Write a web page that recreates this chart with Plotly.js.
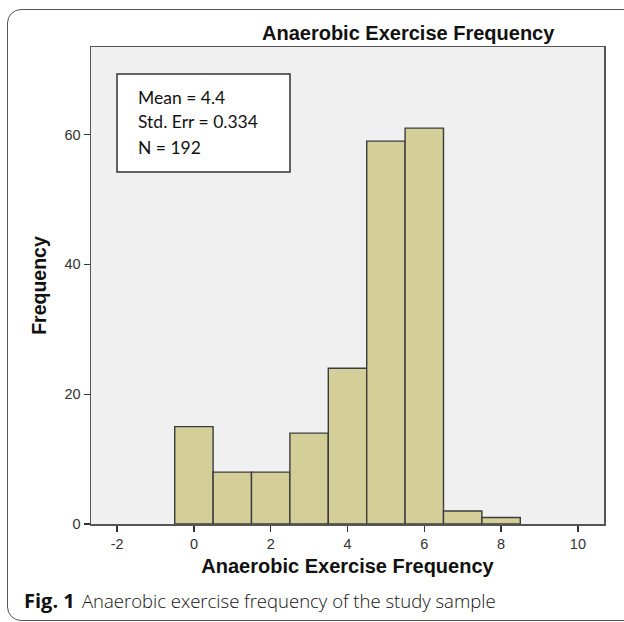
<!DOCTYPE html>
<html>
<head>
<meta charset="utf-8">
<script src="https://cdn.plot.ly/plotly-3.0.1.min.js"></script>
<style>
  html, body { margin: 0; padding: 0; background: #fff; width: 624px; height: 622px; overflow: hidden; }
  #frame { position: absolute; left: 7px; top: 9px; width: 660px; height: 610px; border: 1.5px solid #555; border-radius: 14px; }
  #chart { position: absolute; left: 0; top: 0; width: 624px; height: 622px; }
</style>
</head>
<body>
<div id="frame"></div>
<div id="chart"></div>
<script>
// Data
const binCenters = [0, 1, 2, 3, 4, 5, 6, 7, 8];
const frequencies = [15, 8, 8, 14, 24, 59, 61, 2, 1];
const xTicks = [-2, 0, 2, 4, 6, 8, 10];
const yTicks = [0, 20, 40, 60];
const chartTitle = "Anaerobic Exercise Frequency";
const xTitle = "Anaerobic Exercise Frequency";
const yTitle = "Frequency";
const statLines = ["Mean = 4.4", "Std. Err = 0.334", "N = 192"];
const captionLabel = "Fig. 1";
const captionText = "Anaerobic exercise frequency of the study sample";

const L = 91, T = 47, W = 513, H = 477; // plot area in px (for paper conversions)
const px = x => (x - L) / W;
const py = y => (T + H - y) / H;

const trace = {
  type: "bar",
  x: binCenters,
  y: frequencies,
  width: 1,
  marker: { color: "#d4cf98", line: { color: "#3c3c3c", width: 1.4 } },
  hoverinfo: "skip"
};

const boldFont = "Liberation Sans, Arial, sans-serif";
const statAnnots = statLines.map((s, i) => ({
  text: s, xref: "paper", yref: "paper",
  x: px(136), y: py(97 + 25 * i), xanchor: "left", yanchor: "middle", align: "left",
  showarrow: false, font: { size: 17.5, family: "Lato, Open Sans, sans-serif", color: "#111" }
}));

const layout = {
  width: 624,
  height: 622,
  margin: { l: L, r: 624 - L - W, t: T, b: 622 - T - H },
  paper_bgcolor: "rgba(0,0,0,0)",
  plot_bgcolor: "#f0f0f0",
  showlegend: false,
  bargap: 0,
  font: { family: boldFont, color: "#222" },
  xaxis: {
    range: [-2.68, 10.68],
    tickvals: xTicks,
    ticktext: xTicks.map(String),
    ticks: "outside", ticklen: 6, tickwidth: 1.3, tickcolor: "#333",
    tickfont: { size: 14.5, color: "#333" },
    showgrid: false, zeroline: false,
    showline: true, linecolor: "#555", linewidth: 1.5, mirror: true,
    title: { text: xTitle, font: { size: 20, family: boldFont, weight: "bold", color: "#111" }, standoff: 8 }
  },
  yaxis: {
    range: [0, 73.5],
    tickvals: yTicks,
    ticktext: yTicks.map(String),
    ticks: "outside", ticklen: 6, tickwidth: 1.3, tickcolor: "#333",
    tickfont: { size: 14.5, color: "#333" },
    showgrid: false, zeroline: false,
    showline: true, linecolor: "#555", linewidth: 1.5, mirror: true,
    title: { text: yTitle, font: { size: 19.5, family: boldFont, weight: "bold", color: "#111" }, standoff: 12 }
  },
  shapes: [
    { type: "rect", xref: "paper", yref: "paper",
      x0: px(117), x1: px(290), y0: py(172), y1: py(74),
      fillcolor: "#ffffff", line: { color: "#333", width: 1.5 }, layer: "above" }
  ],
  annotations: [
    { text: chartTitle, xref: "paper", yref: "paper",
      x: px(408), y: py(33), xanchor: "center", yanchor: "middle",
      showarrow: false, font: { size: 20, family: boldFont, weight: "bold", color: "#111" } },
    ...statAnnots,
    { text: "<b>" + captionLabel + "</b>", xref: "paper", yref: "paper",
      x: px(22), y: py(600), xanchor: "left", yanchor: "middle", align: "left",
      showarrow: false, font: { size: 20, family: "Open Sans, sans-serif", color: "#111" } },
    { text: captionText, xref: "paper", yref: "paper",
      x: px(80), y: py(600), xanchor: "left", yanchor: "middle", align: "left",
      showarrow: false, font: { size: 18.5, family: "Open Sans, sans-serif", weight: 300, color: "#111" } }
  ]
};

Plotly.newPlot("chart", [trace], layout, { displayModeBar: false, staticPlot: true });
</script>
</body>
</html>
